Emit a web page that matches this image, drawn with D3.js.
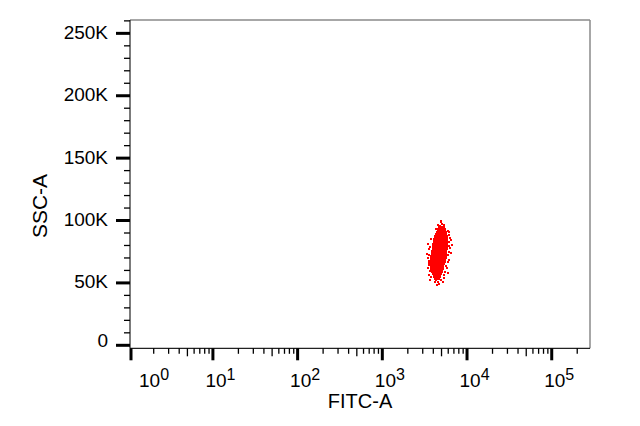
<!DOCTYPE html>
<html>
<head>
<meta charset="utf-8">
<script src="https://cdn.jsdelivr.net/npm/d3@7"></script>
<style>
  html, body { margin: 0; padding: 0; background: #fff; }
  svg { display: block; }
  text { font-family: "Liberation Sans", Arial, sans-serif; fill: #000; }
</style>
</head>
<body>
<svg id="chart" width="640" height="426"></svg>
<script>
// ---- data ----
const xMajorTicks = [1, 10, 100, 1000, 10000, 100000];
const xMajorExponents = ["0", "1", "2", "3", "4", "5"];
const yMajorTicks = [0, 50000, 100000, 150000, 200000, 250000];
const yMajorLabels = ["0", "50K", "100K", "150K", "200K", "250K"];
const xTitle = "FITC-A";
const yTitle = "SSC-A";

// dense core of the event cluster: [SSC row bottom, FITC low, FITC high] (rows 2K tall)
const coreRowY  = [94000, 92000, 90000, 88000, 86000, 84000, 82000, 80000, 78000, 76000, 74000, 72000, 70000, 68000, 66000, 64000, 62000, 60000, 58000, 56000, 54000, 52000];
const coreRowLo = [4600, 4400, 4250, 4150, 4050, 4000, 3950, 3900, 3870, 3820, 3780, 3720, 3680, 3660, 3650, 3640, 3650, 3700, 3780, 3850, 3950, 4050];
const coreRowHi = [5500, 5700, 5800, 5850, 5950, 5950, 6000, 6000, 5950, 5900, 5850, 5800, 5750, 5700, 5600, 5500, 5400, 5300, 5200, 5100, 4950, 4800];

// scattered events around the core
const eventX = [5070, 5400, 4800, 4300, 5900, 6200, 6400, 6650, 6300, 3500, 3600, 6500, 3450, 6200, 3500, 5800, 6000, 3600, 5400, 4200, 4700, 4450, 3700, 5600, 3550, 6100, 3400, 6350, 4900, 5200,
                3800, 3700, 3560, 3580, 3560, 3650, 3800, 6150, 6150, 6050, 6000, 5900, 5700, 5500, 5300, 4500, 5200, 4900, 4300, 4900, 4600];
const eventY = [97500, 96800, 95800, 93500, 92000, 88000, 84000, 80500, 78000, 81000, 77000, 74000, 70000, 68000, 62000, 62000, 58000, 56000, 54000, 50500, 49500, 48500, 52000, 70000, 66000, 90500, 73500, 86000, 98500, 51000,
                85000, 79000, 72500, 67500, 64500, 59500, 55000, 82500, 79500, 75000, 72000, 66500, 63500, 59000, 56500, 96500, 95000, 99500, 52000, 52500, 50500];

// ---- layout ----
const L = 130, R = 590, T = 20, B = 348.3;
const svg = d3.select("#chart");

const x = d3.scaleLog().domain([1.05, 283000]).range([L, R]).clamp(true);
const y = d3.scaleLinear().domain([-2400, 260700]).range([B, T]);

// frame: top/right grey
svg.append("line").attr("x1", L).attr("x2", R).attr("y1", T).attr("y2", T)
  .attr("stroke", "#8a8a8a").attr("stroke-width", 1.5);
svg.append("line").attr("x1", R).attr("x2", R).attr("y1", T).attr("y2", B)
  .attr("stroke", "#8a8a8a").attr("stroke-width", 1.5);

// cluster core
const g = svg.append("g").attr("shape-rendering", "crispEdges");
g.selectAll("rect.core").data(coreRowY).join("rect").attr("class", "core")
  .attr("x", (d, i) => x(coreRowLo[i]))
  .attr("width", (d, i) => x(coreRowHi[i]) - x(coreRowLo[i]))
  .attr("y", d => y(d + 2000))
  .attr("height", d => y(d) - y(d + 2000))
  .attr("fill", "#ff0000");
g.selectAll("rect.ev").data(eventX).join("rect").attr("class", "ev")
  .attr("x", d => x(d) - 1)
  .attr("y", (d, i) => y(eventY[i]) - 1)
  .attr("width", 2).attr("height", 2)
  .attr("fill", "#ff0000");

// y axis
const yAxis = svg.append("g");
yAxis.append("line").attr("x1", L).attr("x2", L).attr("y1", T).attr("y2", B)
  .attr("stroke", "#222").attr("stroke-width", 1.2);
const yMinor = d3.range(10000, 260001, 10000).filter(v => v % 50000 !== 0);
yAxis.selectAll("line.ymin").data(yMinor).join("line").attr("class", "ymin")
  .attr("x1", L - 6).attr("x2", L).attr("y1", d => y(d)).attr("y2", d => y(d))
  .attr("stroke", "#000").attr("stroke-width", 1.3);
yAxis.selectAll("line.ymaj").data(yMajorTicks).join("line").attr("class", "ymaj")
  .attr("x1", L - 14).attr("x2", L).attr("y1", d => y(d)).attr("y2", d => y(d))
  .attr("stroke", "#000").attr("stroke-width", 3);
yAxis.selectAll("text.ylab").data(yMajorTicks).join("text").attr("class", "ylab")
  .attr("x", 108).attr("y", d => d === 0 ? y(d) + 1.5 : y(d) + 5.5)
  .attr("text-anchor", "end").attr("font-size", 19)
  .text((d, i) => yMajorLabels[i]);

// x axis
const xAxis = svg.append("g");
xAxis.append("line").attr("x1", L).attr("x2", R).attr("y1", B).attr("y2", B)
  .attr("stroke", "#222").attr("stroke-width", 1.2);
const xMinor = [];
xMajorTicks.forEach(p => { for (let k = 2; k <= 9; k++) { const v = p * k; if (v <= x.domain()[1]) xMinor.push(v); } });
xAxis.selectAll("line.xmin").data(xMinor).join("line").attr("class", "xmin")
  .attr("x1", d => x(d)).attr("x2", d => x(d))
  .attr("y1", B).attr("y2", d => B + (Math.abs(d / Math.pow(10, Math.floor(Math.log10(d) + 1e-9)) - 5) < 1e-6 ? 8 : 5.5))
  .attr("stroke", "#000").attr("stroke-width", 1.3);
xAxis.selectAll("line.xmaj").data(xMajorTicks).join("line").attr("class", "xmaj")
  .attr("x1", d => x(d) + (d === 1 ? 1 : 0)).attr("x2", d => x(d) + (d === 1 ? 1 : 0))
  .attr("y1", B).attr("y2", B + 12)
  .attr("stroke", "#000").attr("stroke-width", 3);
const xl = xAxis.selectAll("text.xlab").data(xMajorTicks).join("text").attr("class", "xlab")
  .attr("x", d => Math.max(x(d) - 7.5, 139)).attr("y", 386.7)
  .attr("text-anchor", "start").attr("font-size", 19);
xl.append("tspan").text("10");
xl.append("tspan").attr("dy", -6.7).attr("font-size", 16).text((d, i) => xMajorExponents[i]);

// titles
svg.append("text").attr("x", (L + R) / 2).attr("y", 408)
  .attr("text-anchor", "middle").attr("font-size", 20).text(xTitle);
svg.append("text").attr("transform", "translate(46.7,206) rotate(-90)")
  .attr("text-anchor", "middle").attr("font-size", 21).text(yTitle);
</script>
</body>
</html>
